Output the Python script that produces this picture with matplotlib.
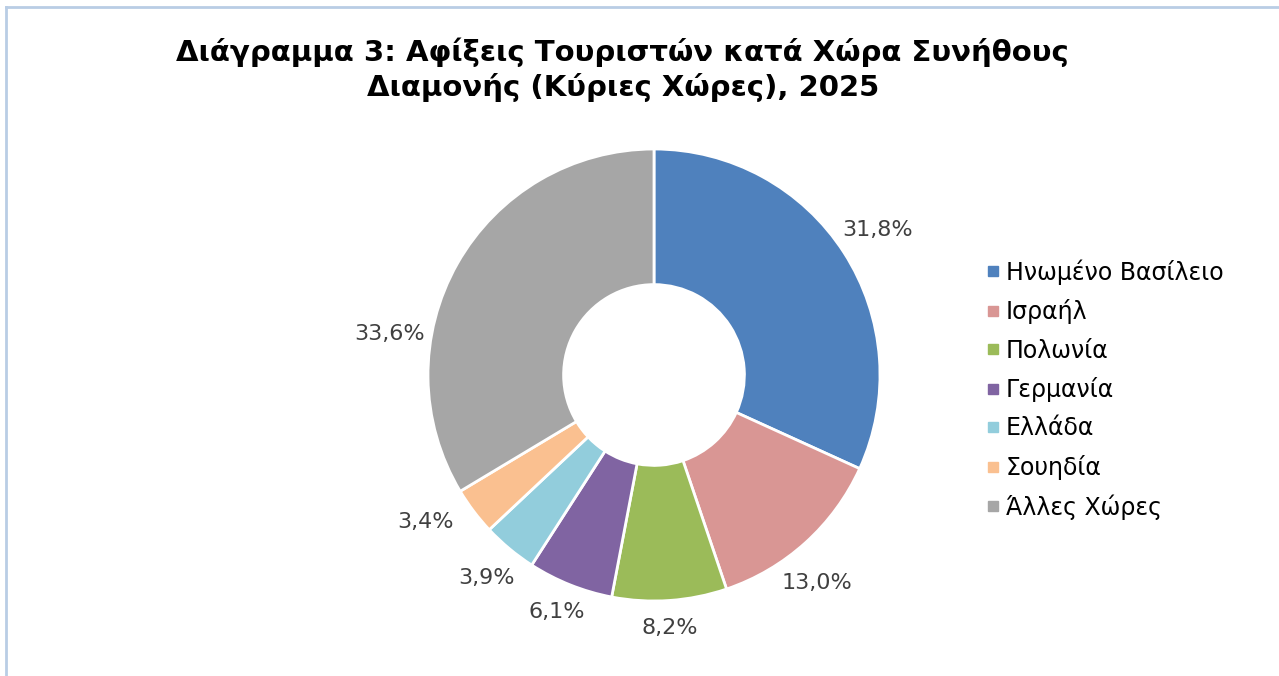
import matplotlib.pyplot as plt
from matplotlib.lines import Line2D

countries = ["Ηνωμένο Βασίλειο", "Ισραήλ", "Πολωνία", "Γερμανία",
             "Ελλάδα", "Σουηδία", "Άλλες Χώρες"]
shares = [31.8, 13.0, 8.2, 6.1, 3.9, 3.4, 33.6]
colors = ["#4F81BD", "#D99694", "#9BBB59", "#8064A2",
          "#92CDDC", "#FAC090", "#A6A6A6"]
title = "Διάγραμμα 3: Αφίξεις Τουριστών κατά Χώρα Συνήθους\nΔιαμονής (Κύριες Χώρες), 2025"

# data-label anchors (pie units, radius = 1), as placed in the original chart
label_xy = [(0.99, 0.64), (0.72, -0.92), (0.07, -1.12), (-0.43, -1.05),
            (-0.74, -0.90), (-1.01, -0.65), (-1.17, 0.18)]

plt.rcParams['font.family'] = ['DejaVu Sans']

fig = plt.figure(figsize=(12.79, 6.76), dpi=100)
ax = fig.add_axes([(654 - 226) / 1279, (676 - 601) / 676, 452 / 1279, 452 / 676])

wedges, _ = ax.pie(shares, colors=colors, startangle=90, counterclock=False,
                   wedgeprops=dict(width=0.6, edgecolor="white", linewidth=2))
for v, (x, y) in zip(shares, label_xy):
    ax.text(x, y, f"{v:.1f}%".replace(".", ","), ha="center", va="center",
            fontsize=16, color="#404040")
ax.set_xlim(-1, 1)
ax.set_ylim(-1, 1)
ax.set_aspect("equal")

fig.text(0.487, 0.897, title, ha="center", va="center", fontsize=21,
         fontweight="bold", linespacing=1.28)

handles = [Line2D([], [], marker="s", linestyle="none", markersize=6.5,
                  markerfacecolor=c, markeredgecolor=c) for c in colors]
fig.legend(handles, countries, loc="upper left", bbox_to_anchor=(962 / 1279, 1 - 238 / 676),
           frameon=False, fontsize=17, handletextpad=0.15, labelspacing=0.61,
           handlelength=0.8)

# chart area border (left and top edges visible)
fig.add_artist(Line2D([6 / 1279, 6 / 1279], [0, 1 - 7 / 676], color="#B9CDE5", lw=2,
                      transform=fig.transFigure))
fig.add_artist(Line2D([6 / 1279, 1], [1 - 7 / 676, 1 - 7 / 676], color="#B9CDE5", lw=2,
                      transform=fig.transFigure))

fig.savefig("out.png", dpi=100)
